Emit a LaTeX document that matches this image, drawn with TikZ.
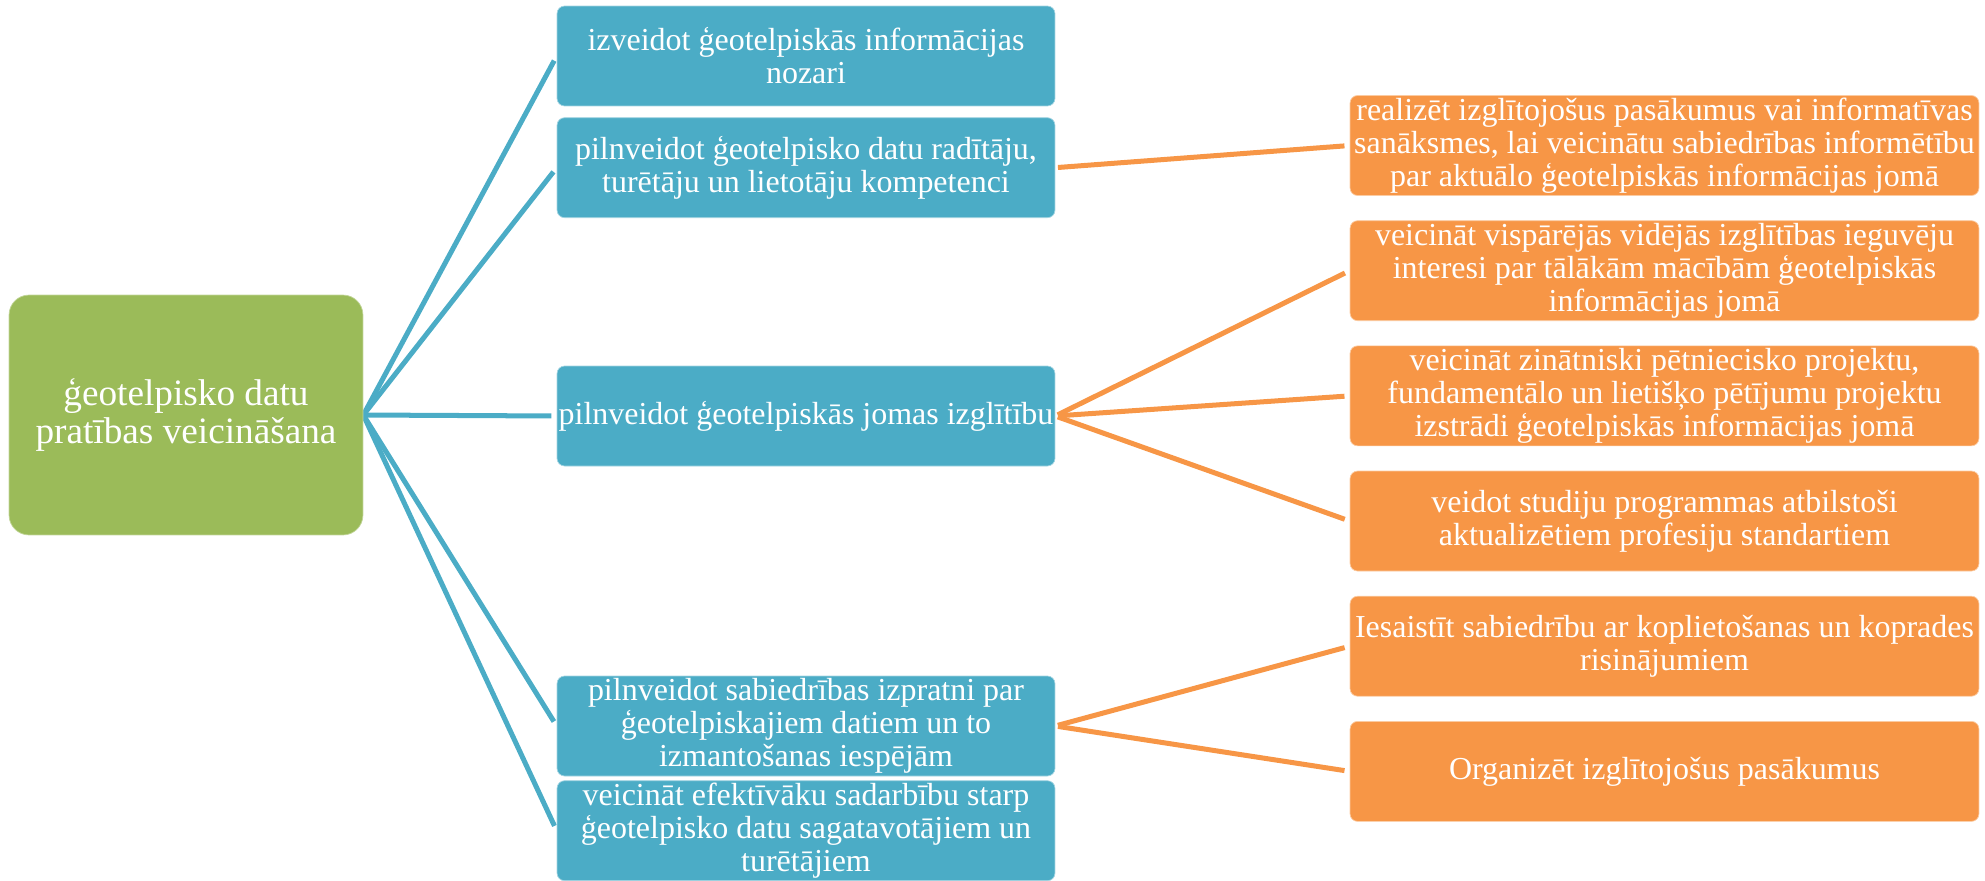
\documentclass[tikz,border=0pt]{standalone}
\usepackage{fontspec}
\setmainfont{Liberation Serif}
\usepackage{xcolor}
\usetikzlibrary{positioning, backgrounds}

\definecolor{rootgreen}{HTML}{9BBB59}
\definecolor{goalblue}{HTML}{4BACC6}
\definecolor{taskorange}{HTML}{F79646}

\begin{document}
\begin{tikzpicture}[
    x=0.02cm, y=-0.02cm,
    rootbox/.style={rectangle, fill=rootgreen, draw=rootgreen!60!white, rounded corners=0.4cm, minimum width=7.08cm, minimum height=4.8cm, align=center, text=white, font=\fontsize{21.2}{22}\selectfont},
    goal/.style={rectangle, fill=goalblue, draw=goalblue!50!white, rounded corners=0.15cm, minimum width=9.96cm, minimum height=2cm, inner sep=0.5pt, align=center, text=white, font=\fontsize{18.2}{18.8}\selectfont},
    task/.style={goal, fill=taskorange, draw=taskorange!50!white, minimum width=12.58cm},
    bluelink/.style={line width=2.85pt, goalblue, shorten >=3pt},
    orangelink/.style={line width=2.85pt, taskorange, shorten <=1.5pt, shorten >=3pt}
]
    \useasboundingbox (0,0) rectangle (1985,880);

    % Root
    \node (root) [rootbox] at (186,415) {ģeotelpisko datu\\pratības veicināšana};

    % Goals
    \node (g_sector) [goal] at (806,56) {izveidot ģeotelpiskās informācijas\\nozari};
    \node (g_skill) [goal, below=0.22cm of g_sector] {pilnveidot ģeotelpisko datu radītāju,\\turētāju un lietotāju kompetenci};
    \node (g_edu) [goal] at (806,416) {pilnveidot ģeotelpiskās jomas izglītību};
    \node (g_public) [goal] at (806,726) {pilnveidot sabiedrības izpratni par\\ģeotelpiskajiem datiem un to\\izmantošanas iespējām};
    \node (g_coop) [goal, below=0.08cm of g_public] {veicināt efektīvāku sadarbību starp\\ģeotelpisko datu sagatavotājiem un\\turētājiem};

    % Tasks
    \node (t_events) [task] at (1664.5,145.5) {realizēt izglītojošus pasākumus vai informatīvas\\sanāksmes, lai veicinātu sabiedrības informētību\\par aktuālo ģeotelpiskās informācijas jomā};
    \node (t_school) [task, below=0.49cm of t_events] {veicināt vispārējās vidējās izglītības ieguvēju\\interesi par tālākām mācībām ģeotelpiskās\\informācijas jomā};
    \node (t_research) [task, below=0.49cm of t_school] {veicināt zinātniski pētniecisko projektu,\\fundamentālo un lietišķo pētījumu projektu\\izstrādi ģeotelpiskās informācijas jomā};
    \node (t_study) [task, below=0.49cm of t_research] {veidot studiju programmas atbilstoši\\aktualizētiem profesiju standartiem};
    \node (t_share) [task, below=0.49cm of t_study] {Iesaistīt sabiedrību ar koplietošanas un koprades\\risinājumiem};
    \node (t_org) [task, below=0.49cm of t_share] {Organizēt izglītojošus pasākumus};

    % Links
    \begin{scope}[on background layer]
    \draw [bluelink] (root.east) -- (g_sector.west);
    \draw [bluelink] (root.east) -- (g_skill.west);
    \draw [bluelink] (root.east) -- (g_edu.west);
    \draw [bluelink] (root.east) -- (g_public.west);
    \draw [bluelink] (root.east) -- (g_coop.west);
    \draw [orangelink] (g_skill.east) -- (t_events.west);
    \draw [orangelink] (g_edu.east) -- (t_school.west);
    \draw [orangelink] (g_edu.east) -- (t_research.west);
    \draw [orangelink] (g_edu.east) -- (t_study.west);
    \draw [orangelink] (g_public.east) -- (t_share.west);
    \draw [orangelink] (g_public.east) -- (t_org.west);
    \end{scope}
\end{tikzpicture}
\end{document}
